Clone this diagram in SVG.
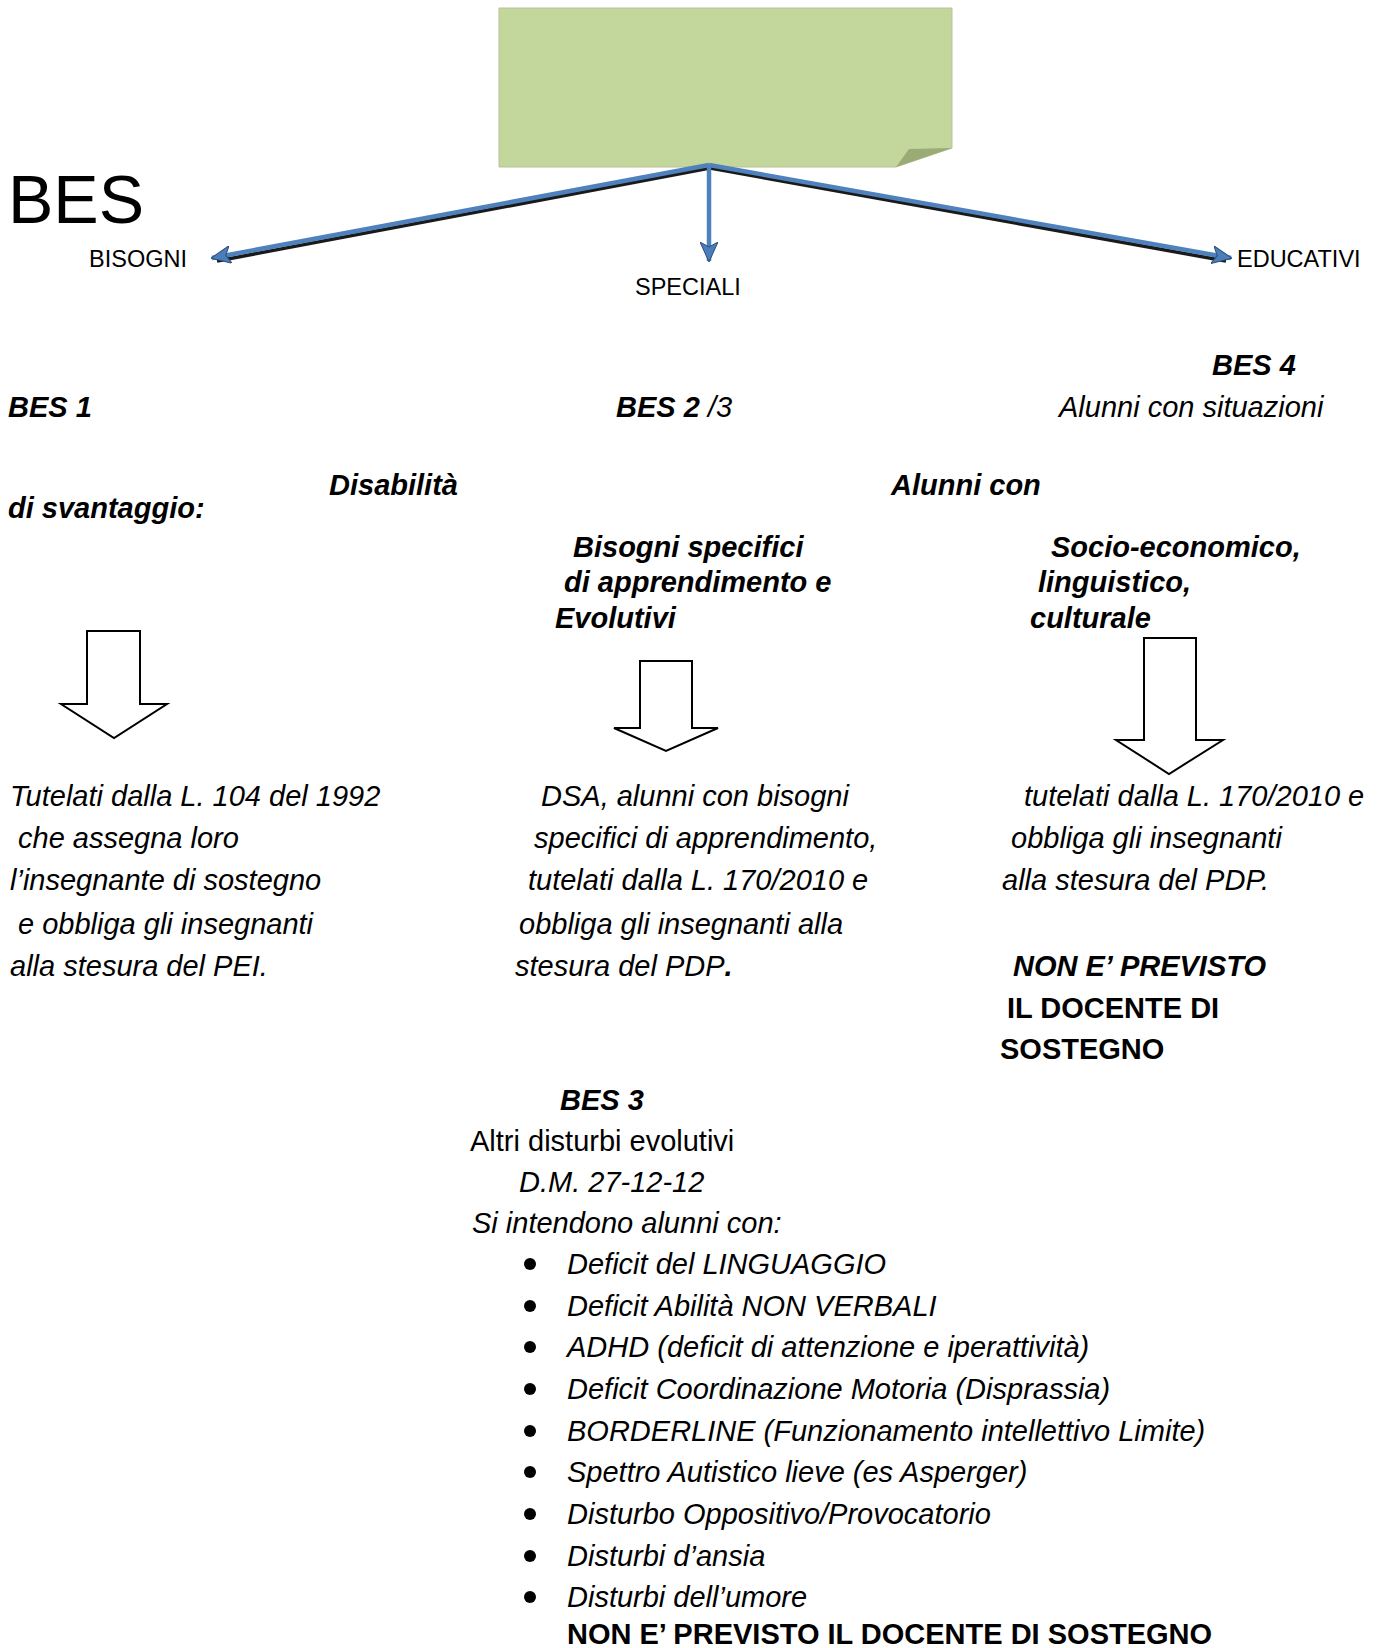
<svg xmlns="http://www.w3.org/2000/svg" width="1383" height="1648" viewBox="0 0 1383 1648">
<defs>
<style>
.t{font-family:"Liberation Sans",Arial,sans-serif;font-size:29px;fill:#000}
.i{font-style:italic}
.b{font-weight:bold}
.lbl{font-size:23.5px}
.big{font-size:68px}
.blk{fill:#fff;stroke:#000;stroke-width:2}
.conn{fill:none;stroke:#4f81bd;stroke-width:4.5}
.shadow{fill:none;stroke:#1a1a1a;stroke-width:3.5}
</style>
<marker id="ah" viewBox="0 0 20 18" refX="19" refY="9" markerWidth="20" markerHeight="18" markerUnits="userSpaceOnUse" orient="auto">
<path d="M0,0 L20,9 L0,18 L5,9 z" fill="#4a7ebb" stroke="#2c4d75" stroke-width="1"/>
</marker>
</defs>
<rect width="1383" height="1648" fill="#fff"/>

<g id="note">
<path d="M499,8 L952,8 L952,148 L896,167 L499,167 Z" fill="#c3d69b" stroke="#b9c29a" stroke-width="1"/>
<path d="M896,167 L909,149 L952,148 Z" fill="#9bab75"/>
</g>

<g id="connectors">
<line class="shadow" x1="710" y1="168" x2="217" y2="261"/>
<line class="shadow" x1="710" y1="168" x2="1226" y2="261"/>
<line class="conn" x1="709" y1="165" x2="212" y2="258" marker-end="url(#ah)"/>
<line class="conn" x1="709" y1="165" x2="1231" y2="258" marker-end="url(#ah)"/>
<line class="conn" x1="709" y1="165" x2="709" y2="261" marker-end="url(#ah)"/>
</g>

<g id="title">
<text class="t big" x="8" y="223">BES</text>
</g>
<g id="label-bisogni"><text class="t lbl" x="89" y="267">BISOGNI</text></g>
<g id="label-speciali"><text class="t lbl" x="635" y="295">SPECIALI</text></g>
<g id="label-educativi"><text class="t lbl" x="1237" y="267">EDUCATIVI</text></g>

<g id="bes1">
<text class="t i b" x="8" y="417">BES 1</text>
<text class="t i b" x="329" y="495">Disabilità</text>
<text class="t i b" x="8" y="518">di svantaggio:</text>
</g>

<g id="bes23">
<text class="t i" x="616" y="417"><tspan class="b">BES 2</tspan> /3</text>
<text class="t i b" x="573" y="557">Bisogni specifici</text>
<text class="t i b" x="564" y="592">di apprendimento e</text>
<text class="t i b" x="555" y="628">Evolutivi</text>
</g>

<g id="bes4">
<text class="t i b" x="1212" y="375">BES 4</text>
<text class="t i" x="1059" y="417">Alunni con situazioni</text>
<text class="t i b" x="891" y="495">Alunni con</text>
<text class="t i b" x="1051" y="557">Socio-economico,</text>
<text class="t i b" x="1038" y="592">linguistico,</text>
<text class="t i b" x="1030" y="628">culturale</text>
</g>

<g id="arrow-left">
<path class="blk" d="M87,631 H140 V704 H167 L114,738 L61,704 H87 Z"/>
</g>
<g id="arrow-middle">
<path class="blk" d="M640,661 H692 V728 H718 L666,751 L614,728 H640 Z"/>
</g>
<g id="arrow-right">
<path class="blk" d="M1144,638 H1196 V740 H1223 L1169,774 L1116,740 H1144 Z"/>
</g>

<g id="text-left">
<text class="t i" x="10" y="806">Tutelati dalla L. 104 del 1992</text>
<text class="t i" x="18" y="848">che assegna loro</text>
<text class="t i" x="10" y="890">l’insegnante di sostegno</text>
<text class="t i" x="18" y="934">e obbliga gli insegnanti</text>
<text class="t i" x="10" y="976">alla stesura del PEI.</text>
</g>

<g id="text-middle">
<text class="t i" x="541" y="806">DSA, alunni con bisogni</text>
<text class="t i" x="534" y="848">specifici di apprendimento,</text>
<text class="t i" x="528" y="890">tutelati dalla L. 170/2010 e</text>
<text class="t i" x="519" y="934">obbliga gli insegnanti alla</text>
<text class="t i" x="515" y="976">stesura del PDP<tspan class="b">.</tspan></text>
</g>

<g id="text-right">
<text class="t i" x="1024" y="806">tutelati dalla L. 170/2010 e</text>
<text class="t i" x="1011" y="848">obbliga gli insegnanti</text>
<text class="t i" x="1002" y="890">alla stesura del PDP.</text>
<text class="t i b" x="1013" y="976">NON E’ PREVISTO</text>
<text class="t b" x="1007" y="1018">IL DOCENTE DI</text>
<text class="t b" x="1000" y="1059">SOSTEGNO</text>
</g>

<g id="bes3">
<text class="t i b" x="560" y="1110">BES 3</text>
<text class="t" x="470" y="1151">Altri disturbi evolutivi</text>
<text class="t i" x="519" y="1192">D.M. 27-12-12</text>
<text class="t i" x="472" y="1233">Si intendono alunni con:</text>
<g fill="#000">
<circle cx="530" cy="1264" r="6"/>
<circle cx="530" cy="1306" r="6"/>
<circle cx="530" cy="1347" r="6"/>
<circle cx="530" cy="1389" r="6"/>
<circle cx="530" cy="1431" r="6"/>
<circle cx="530" cy="1472" r="6"/>
<circle cx="530" cy="1514" r="6"/>
<circle cx="530" cy="1556" r="6"/>
<circle cx="530" cy="1597" r="6"/>
</g>
<text class="t i" x="567" y="1274">Deficit del LINGUAGGIO</text>
<text class="t i" x="567" y="1316">Deficit Abilità NON VERBALI</text>
<text class="t i" x="567" y="1357">ADHD (deficit di attenzione e iperattività)</text>
<text class="t i" x="567" y="1399">Deficit Coordinazione Motoria (Disprassia)</text>
<text class="t i" x="567" y="1441">BORDERLINE (Funzionamento intellettivo Limite)</text>
<text class="t i" x="567" y="1482">Spettro Autistico lieve (es Asperger)</text>
<text class="t i" x="567" y="1524">Disturbo Oppositivo/Provocatorio</text>
<text class="t i" x="567" y="1566">Disturbi d’ansia</text>
<text class="t i" x="567" y="1607">Disturbi dell’umore</text>
<text class="t b" x="567" y="1644">NON E’ PREVISTO IL DOCENTE DI SOSTEGNO</text>
</g>
</svg>
